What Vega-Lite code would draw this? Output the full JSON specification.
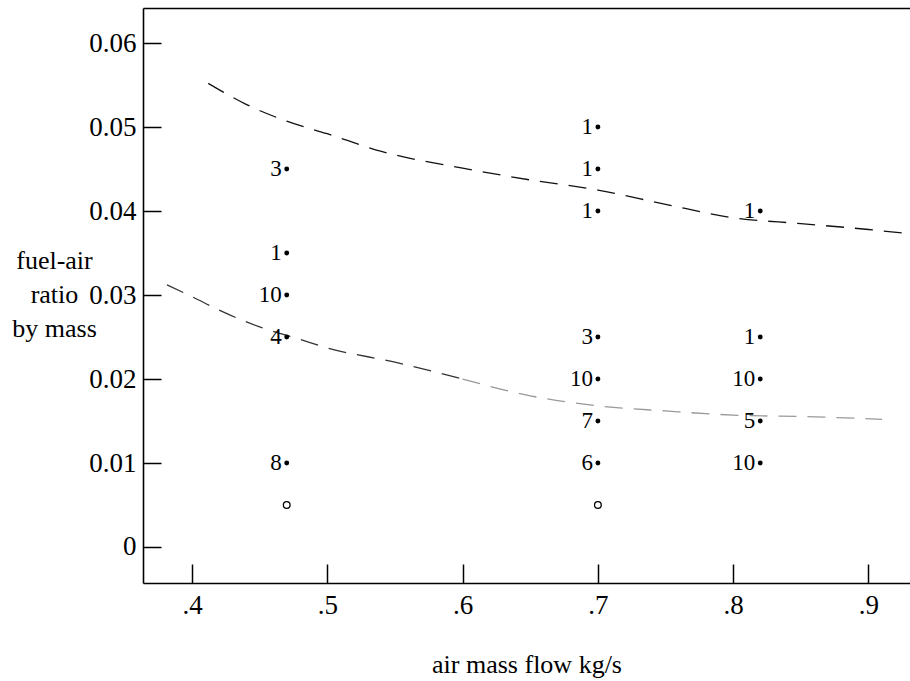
{
  "$schema": "https://vega.github.io/schema/vega-lite/v6.json",
  "autosize": "none",
  "width": 767,
  "height": 575,
  "padding": {"left": 143, "top": 8, "right": 0, "bottom": 98},
  "background": "white",
  "config": {
    "view": {"stroke": null},
    "font": "Liberation Serif",
    "axis": {
      "grid": false,
      "domainColor": "black",
      "domainWidth": 1.6,
      "tickColor": "black",
      "tickWidth": 1.5,
      "labelFont": "Liberation Serif",
      "labelFontSize": 27,
      "labelColor": "black",
      "titleFont": "Liberation Serif",
      "titleFontSize": 26,
      "titleFontWeight": "normal",
      "titleColor": "black"
    }
  },
  "datasets": {
    "curves": [
      {"x": 0.412, "y": 0.0552, "s": "upper"},
      {"x": 0.44, "y": 0.0527, "s": "upper"},
      {"x": 0.47, "y": 0.0507, "s": "upper"},
      {"x": 0.5, "y": 0.0492, "s": "upper"},
      {"x": 0.54, "y": 0.0471, "s": "upper"},
      {"x": 0.6, "y": 0.0451, "s": "upper"},
      {"x": 0.65, "y": 0.0437, "s": "upper"},
      {"x": 0.7, "y": 0.0425, "s": "upper"},
      {"x": 0.75, "y": 0.0408, "s": "upper"},
      {"x": 0.8, "y": 0.0392, "s": "upper"},
      {"x": 0.85, "y": 0.0385, "s": "upper"},
      {"x": 0.9, "y": 0.0378, "s": "upper"},
      {"x": 0.93, "y": 0.0373, "s": "upper"},
      {"x": 0.3815, "y": 0.0312, "s": "lowerA"},
      {"x": 0.4, "y": 0.0298, "s": "lowerA"},
      {"x": 0.42, "y": 0.0282, "s": "lowerA"},
      {"x": 0.45, "y": 0.0262, "s": "lowerA"},
      {"x": 0.48, "y": 0.0247, "s": "lowerA"},
      {"x": 0.5, "y": 0.0237, "s": "lowerA"},
      {"x": 0.55, "y": 0.022, "s": "lowerA"},
      {"x": 0.6, "y": 0.02, "s": "lowerA"},
      {"x": 0.6, "y": 0.02, "s": "lowerB"},
      {"x": 0.65, "y": 0.018, "s": "lowerB"},
      {"x": 0.7, "y": 0.0168, "s": "lowerB"},
      {"x": 0.75, "y": 0.0162, "s": "lowerB"},
      {"x": 0.8, "y": 0.0157, "s": "lowerB"},
      {"x": 0.86, "y": 0.0155, "s": "lowerB"},
      {"x": 0.91, "y": 0.0152, "s": "lowerB"}
    ],
    "pts": [
      {"x": 0.47, "y": 0.045, "n": "3", "kind": "filled"},
      {"x": 0.47, "y": 0.035, "n": "1", "kind": "filled"},
      {"x": 0.47, "y": 0.03, "n": "10", "kind": "filled"},
      {"x": 0.47, "y": 0.025, "n": "4", "kind": "filled"},
      {"x": 0.47, "y": 0.01, "n": "8", "kind": "filled"},
      {"x": 0.47, "y": 0.005, "n": "", "kind": "open"},
      {"x": 0.7, "y": 0.05, "n": "1", "kind": "filled"},
      {"x": 0.7, "y": 0.045, "n": "1", "kind": "filled"},
      {"x": 0.7, "y": 0.04, "n": "1", "kind": "filled"},
      {"x": 0.7, "y": 0.025, "n": "3", "kind": "filled"},
      {"x": 0.7, "y": 0.02, "n": "10", "kind": "filled"},
      {"x": 0.7, "y": 0.015, "n": "7", "kind": "filled"},
      {"x": 0.7, "y": 0.01, "n": "6", "kind": "filled"},
      {"x": 0.7, "y": 0.005, "n": "", "kind": "open"},
      {"x": 0.82, "y": 0.04, "n": "1", "kind": "filled"},
      {"x": 0.82, "y": 0.025, "n": "1", "kind": "filled"},
      {"x": 0.82, "y": 0.02, "n": "10", "kind": "filled"},
      {"x": 0.82, "y": 0.015, "n": "5", "kind": "filled"},
      {"x": 0.82, "y": 0.01, "n": "10", "kind": "filled"}
    ]
  },
  "layer": [
    {
      "data": {"name": "curves"},
      "mark": {"type": "line", "interpolate": "monotone", "strokeWidth": 1.3, "strokeDash": [18, 11]},
      "encoding": {
        "x": {"field": "x", "type": "quantitative", "scale": {"domain": [0.36378, 0.93068], "nice": false, "zero": false},
              "axis": {"orient": "top", "domain": true, "ticks": false, "labels": false, "title": null}},
        "y": {"field": "y", "type": "quantitative", "scale": {"domain": [-0.004286, 0.06417], "nice": false, "zero": false},
              "axis": null},
        "detail": {"field": "s"},
        "color": {"field": "s", "type": "nominal", "legend": null,
                  "scale": {"domain": ["upper", "lowerA", "lowerB"], "range": ["#111111", "#333333", "#999999"]}}
      }
    },
    {
      "data": {"name": "pts"},
      "transform": [{"filter": "datum.kind == 'filled'"}],
      "mark": {"type": "point", "filled": true, "shape": "circle", "size": 24, "color": "black", "opacity": 1},
      "encoding": {
        "x": {"field": "x", "type": "quantitative",
              "axis": {"orient": "bottom", "values": [0.4, 0.5, 0.6, 0.7, 0.8, 0.9], "tickSize": -19, "labelPadding": 28,
                       "labelExpr": "replace(format(datum.value, '.1f'), '0.', '.')",
                       "title": "air mass flow kg/s", "titleY": 89, "titleBaseline": "alphabetic"}},
        "y": {"field": "y", "type": "quantitative",
              "axis": {"orient": "left", "values": [0, 0.01, 0.02, 0.03, 0.04, 0.05, 0.06], "tickSize": -18, "labelPadding": 25,
                       "labelExpr": "datum.value == 0 ? '0' : format(datum.value, '.2f')",
                       "title": ["fuel-air", "ratio", "by mass"], "titleAngle": 0, "titleAlign": "center", "titleBaseline": "middle",
                       "titleX": -89, "titleY": 252, "titleLineHeight": 34}}
      }
    },
    {
      "data": {"name": "pts"},
      "transform": [{"filter": "datum.kind == 'filled'"}],
      "mark": {"type": "text", "align": "right", "baseline": "alphabetic", "dx": -5, "dy": 7, "fontSize": 23, "font": "Liberation Serif", "color": "black"},
      "encoding": {
        "x": {"field": "x", "type": "quantitative", "axis": null},
        "y": {"field": "y", "type": "quantitative", "axis": null},
        "text": {"field": "n"}
      }
    },
    {
      "data": {"name": "pts"},
      "transform": [{"filter": "datum.kind == 'open'"}],
      "mark": {"type": "point", "filled": false, "shape": "circle", "size": 45, "color": "black", "strokeWidth": 1.3, "opacity": 1},
      "encoding": {
        "x": {"field": "x", "type": "quantitative", "axis": null},
        "y": {"field": "y", "type": "quantitative", "axis": null}
      }
    }
  ],
  "resolve": {"axis": {"x": "independent", "y": "independent"}}
}
